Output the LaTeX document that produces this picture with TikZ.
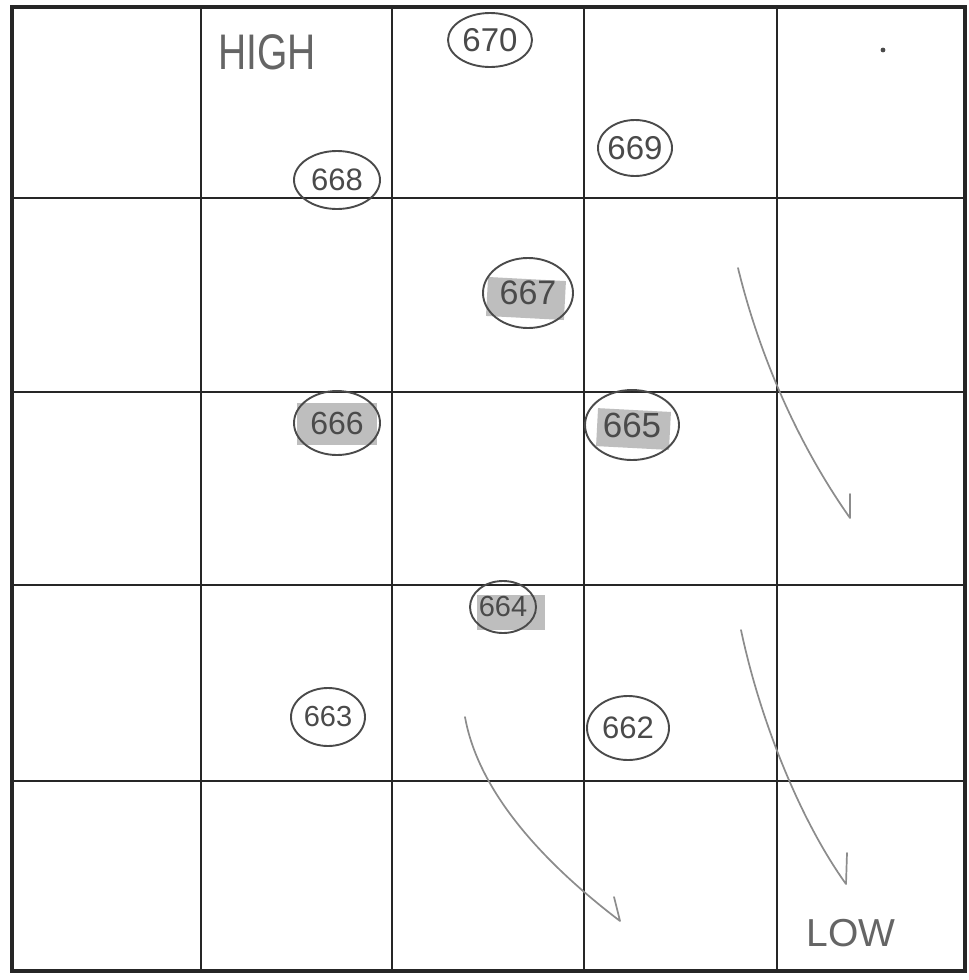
\documentclass[tikz,border=0pt]{standalone}
\usepackage{fontspec}
\setmainfont{Liberation Sans}
\usetikzlibrary{shapes.geometric}
\definecolor{pencil}{HTML}{4A4A4A}
\definecolor{lightpencil}{HTML}{8C8C8C}
\definecolor{hl}{HTML}{BEBEBE}
\begin{document}
\begin{tikzpicture}[x=1pt,y=-1pt,
  gridline/.style={line width=2.8pt, draw=black!85},
  border/.style={line width=4.8pt, draw=black!85},
  num/.style={ellipse, draw=pencil, line width=1.9pt, text=pencil, inner sep=0pt},
  numfont/.style={font=\fontsize{#1}{#1}\selectfont},
  hilite/.style={fill=hl},
  flow/.style={draw=lightpencil, line width=1.7pt, line cap=round, line join=round},
  word/.style={text=pencil!85, inner sep=0pt}]
\useasboundingbox (0,0) rectangle (969,980);
\fill[white] (0,0) rectangle (969,980);
% grid
\foreach \x in {201,392,584,777} \draw[gridline] (\x,7) -- (\x,971);
\foreach \y in {198,392,585,781} \draw[gridline] (12,\y) -- (965,\y);
\draw[border] (12,7) rectangle (965,971);
% highlights
\fill[hilite, rotate around={-3:(526,298)}] (487,279) rectangle (565,318);
\fill[hilite] (297,403) rectangle (377,445);
\fill[hilite, rotate around={-3:(633,429)}] (597,410) rectangle (670,448);
\fill[hilite] (477,595) rectangle (545,630);
% numbered ellipses
\node[num, numfont=33, minimum width=84, minimum height=54] (n670) at (490,40) {\makebox[0pt]{670}};
\node[num, numfont=31, minimum width=86, minimum height=58] (n668) at (337,180) {\makebox[0pt]{668}};
\node[num, numfont=33, minimum width=74, minimum height=56] (n669) at (635,148) {\makebox[0pt]{669}};
\node[num, numfont=34, minimum width=90, minimum height=70] (n667) at (528,293) {\makebox[0pt]{667}};
\node[num, numfont=32, minimum width=86, minimum height=64] (n666) at (337,423) {\makebox[0pt]{666}};
\node[num, numfont=35, minimum width=94, minimum height=70] (n665) at (632,425) {\makebox[0pt]{665}};
\node[num, numfont=29, minimum width=66, minimum height=52] (n664) at (503,607) {\makebox[0pt]{664}};
\node[num, numfont=29, minimum width=74, minimum height=58] (n663) at (328,717) {\makebox[0pt]{663}};
\node[num, numfont=31, minimum width=82, minimum height=64] (n662) at (628,728) {\makebox[0pt]{662}};
% labels
\node[word, font=\fontsize{50}{50}\selectfont, xscale=0.78] (high) at (267,52) {HIGH};
\node[word, font=\fontsize{39}{39}\selectfont] (low) at (851,933) {LOW};
% dot
\fill[pencil] (883,50) circle (2.4);
% arrows
\coordinate (a1s) at (738,268);
\coordinate (a1e) at (850,518);
\coordinate (a1t) at (850,494);
\draw[flow] (a1s) .. controls (758,350) and (795,440) .. (a1e) -- (a1t);
\coordinate (a2s) at (465,717);
\coordinate (a2e) at (620,921);
\coordinate (a2t) at (614,897);
\draw[flow] (a2s) .. controls (478,790) and (540,860) .. (a2e) -- (a2t);
\coordinate (a3s) at (741,630);
\coordinate (a3e) at (846,884);
\coordinate (a3t) at (847,853);
\draw[flow] (a3s) .. controls (760,720) and (800,820) .. (a3e) -- (a3t);
\end{tikzpicture}
\end{document}
